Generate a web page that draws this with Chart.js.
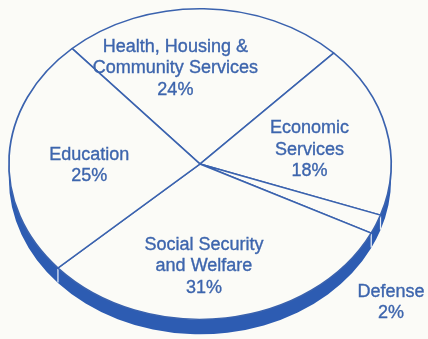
<!DOCTYPE html>
<html>
<head>
<meta charset="utf-8">
<script src="https://cdn.jsdelivr.net/npm/chart.js@4/dist/chart.umd.min.js"></script>
<style>
  html, body { margin: 0; padding: 0; background: #fbfbf7; }
  canvas { display: block; }
</style>
</head>
<body>
<canvas id="budget" width="428" height="339"></canvas>
<script>
// Spending categories, in drawing order (clockwise)
const categories = [
  ["Health, Housing &", "Community Services"],
  ["Economic", "Services"],
  ["Defense"],
  ["Social Security", "and Welfare"],
  ["Education"]
];
const shares = [24, 18, 2, 31, 25];
const shareLabels = ["24%", "18%", "2%", "31%", "25%"];

// Label placement: angular nudge (degrees) from the slice middle, and reach as a fraction of the radius
const labelShift = [-13, 4, 19, 6, -4];
const labelReach = [0.63, 0.58, 1.34, 0.66, 0.58];

const INK = '#3a62ae';
const TEXT = '#3d65ad';
const WALL = '#2d5cb2';
const PAPER = '#fbfbf7';
const STRETCH_X = 192 / 156;   // widen the disc into a tilted ellipse
const WALL_DEPTH = 15;          // thickness of the visible rim

function toScreenX(cx, x) { return cx + (x - cx) * STRETCH_X; }

const tiltedDisc = {
  id: 'tiltedDisc',
  beforeDatasetsDraw(chart) {
    const ctx = chart.ctx;
    const arcs = chart.getDatasetMeta(0).data;
    const cx = arcs[0].x, cy = arcs[0].y;
    ctx.save();
    ctx.translate(cx, 0);
    ctx.scale(STRETCH_X, 1);
    ctx.translate(-cx, 0);

    // side wall: the front half of each slice, pushed down by the depth
    const TAU = Math.PI * 2;
    ctx.fillStyle = WALL;
    arcs.forEach(arc => {
      const r = arc.outerRadius;
      for (let k = -2; k <= 2; k++) {
        const lo = Math.max(arc.startAngle, TAU * k);
        const hi = Math.min(arc.endAngle, TAU * k + Math.PI);
        if (hi <= lo) continue;
        ctx.beginPath();
        ctx.arc(cx, cy, r, lo, hi);
        ctx.arc(cx, cy + WALL_DEPTH, r, hi, lo, true);
        ctx.closePath();
        ctx.fill();
      }
    });
    // seams where slices meet on the wall
    ctx.strokeStyle = '#e6ecf6';
    ctx.lineWidth = 1;
    arcs.forEach(arc => {
      const r = arc.outerRadius;
      let a = arc.startAngle % TAU;
      if (a < 0) a += TAU;
      if (a > 0.02 && a < Math.PI - 0.02) {
        const px = cx + r * Math.cos(a), py = cy + r * Math.sin(a);
        ctx.beginPath();
        ctx.moveTo(px, py + 1);
        ctx.lineTo(px, py + WALL_DEPTH - 0.5);
        ctx.stroke();
      }
    });
  },
  afterDatasetsDraw(chart) {
    chart.ctx.restore();
  },
  afterDraw(chart) {
    const ctx = chart.ctx;
    const arcs = chart.getDatasetMeta(0).data;
    ctx.save();
    ctx.fillStyle = TEXT;
    ctx.strokeStyle = TEXT;
    ctx.lineWidth = 0.35;
    ctx.font = '18px "Liberation Sans", Arial, sans-serif';
    ctx.textAlign = 'center';
    ctx.textBaseline = 'middle';
    const lineH = 21.5;
    arcs.forEach((arc, i) => {
      const mid = (arc.startAngle + arc.endAngle) / 2 + labelShift[i] * Math.PI / 180;
      const reach = arc.outerRadius * labelReach[i];
      const ax = toScreenX(arc.x, arc.x + reach * Math.cos(mid));
      const ay = arc.y + reach * Math.sin(mid);
      const lines = categories[i].concat([shareLabels[i]]);
      lines.forEach((t, j) => {
        const ty = ay + (j - (lines.length - 1) / 2) * lineH;
        ctx.fillText(t, ax, ty);
        ctx.strokeText(t, ax, ty);
      });
    });
    ctx.restore();
  }
};

new Chart(document.getElementById('budget'), {
  type: 'pie',
  data: {
    labels: categories.map(c => c.join(' ')),
    datasets: [{
      data: shares,
      backgroundColor: PAPER,
      borderColor: INK,
      borderWidth: 1.4,
      hoverOffset: 0,
      clip: false
    }]
  },
  options: {
    responsive: false,
    animation: false,
    rotation: -42,
    layout: { padding: { left: 8, right: 36, top: 8, bottom: 19 } },
    plugins: {
      legend: { display: false },
      tooltip: { enabled: false }
    }
  },
  plugins: [tiltedDisc]
});
</script>
</body>
</html>
